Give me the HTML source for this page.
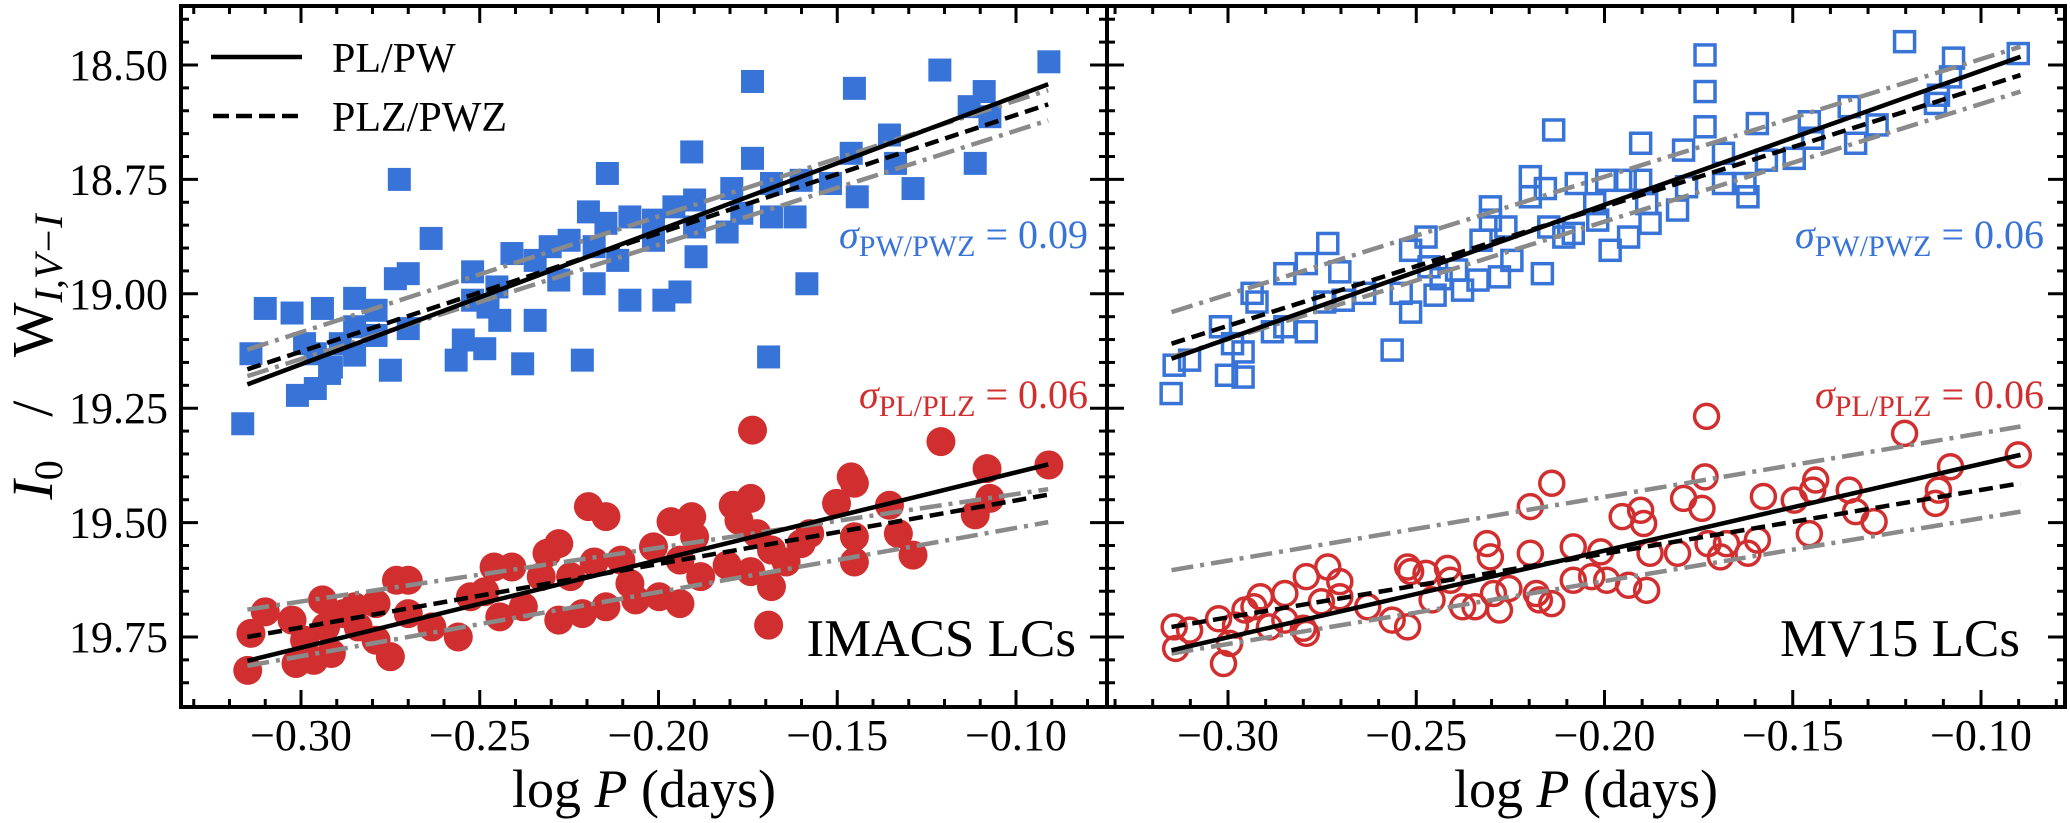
<!DOCTYPE html>
<html><head><meta charset="utf-8"><title>PL/PW relations</title>
<style>
html,body{margin:0;padding:0;background:#fff;}
svg{display:block;font-family:"Liberation Serif","DejaVu Serif",serif;}
</style></head>
<body>
<svg id="chart" xmlns="http://www.w3.org/2000/svg" width="2070" height="823" viewBox="0 0 2070 823"></svg>
<script>
// ---------- data ----------
const xTickValues = [-0.30, -0.25, -0.20, -0.15, -0.10];
const xTickLabels = ["\u22120.30", "\u22120.25", "\u22120.20", "\u22120.15", "\u22120.10"];
const yTickValues = [18.50, 18.75, 19.00, 19.25, 19.50, 19.75];
const yTickLabels = ["18.50", "18.75", "19.00", "19.25", "19.50", "19.75"];

const imacsPwLogP = [-0.314,-0.310,-0.3025,-0.294,-0.299,-0.296,-0.292,-0.301,-0.296,-0.2915,-0.289,-0.285,-0.285,-0.285,-0.279,-0.279,-0.275,-0.2725,-0.2736,-0.270,-0.270,-0.2636,-0.2566,-0.2546,-0.252,-0.252,-0.2486,-0.2477,-0.2452,-0.2444,-0.241,-0.238,-0.2345,-0.2345,-0.2303,-0.2279,-0.225,-0.2213,-0.2196,-0.218,-0.218,-0.2143,-0.2147,-0.2114,-0.208,-0.208,-0.2014,-0.2014,-0.1985,-0.194,-0.1957,-0.1907,-0.1899,-0.1899,-0.1895,-0.1808,-0.1795,-0.1767,-0.1737,-0.1737,-0.1692,-0.1684,-0.1684,-0.1618,-0.1585,-0.1601,-0.1519,-0.1461,-0.1444,-0.1452,-0.1354,-0.1337,-0.1288,-0.1213,-0.1114,-0.1131,-0.1089,-0.1073,-0.0908,-0.3163];
const imacsPwMag = [19.131,19.032,19.042,19.032,19.109,19.131,19.174,19.222,19.207,19.160,19.109,19.010,19.072,19.134,19.036,19.091,19.167,18.750,18.967,18.956,19.076,18.879,19.145,19.101,18.952,19.014,19.120,19.029,18.985,19.058,18.912,19.153,19.058,18.927,18.897,18.970,18.883,19.145,18.821,18.897,18.978,18.737,18.846,18.927,19.014,18.832,18.839,18.883,19.014,18.996,18.810,18.690,18.795,18.854,18.919,18.865,18.770,18.824,18.704,18.536,19.138,18.759,18.832,18.832,18.978,18.752,18.759,18.693,18.788,18.551,18.653,18.715,18.770,18.511,18.715,18.591,18.558,18.613,18.493,19.284];

const imacsPlLogP = [-0.3149,-0.314,-0.310,-0.3025,-0.3014,-0.299,-0.2964,-0.294,-0.2931,-0.2915,-0.2882,-0.285,-0.284,-0.279,-0.279,-0.275,-0.2733,-0.270,-0.270,-0.2634,-0.256,-0.2526,-0.2486,-0.2444,-0.246,-0.241,-0.2378,-0.2328,-0.2312,-0.2279,-0.2279,-0.2246,-0.2196,-0.2213,-0.218,-0.2147,-0.2147,-0.2105,-0.208,-0.2064,-0.2014,-0.1998,-0.1965,-0.194,-0.194,-0.1907,-0.1899,-0.1882,-0.1808,-0.1791,-0.1775,-0.1742,-0.1737,-0.1742,-0.1725,-0.1684,-0.1692,-0.1684,-0.1643,-0.1601,-0.1577,-0.1502,-0.1461,-0.1452,-0.1452,-0.1452,-0.1354,-0.1329,-0.1288,-0.121,-0.1114,-0.1081,-0.1073,-0.0908];
const imacsPlMag = [19.823,19.742,19.695,19.713,19.808,19.757,19.801,19.669,19.728,19.786,19.699,19.684,19.728,19.677,19.757,19.793,19.626,19.626,19.699,19.728,19.750,19.662,19.651,19.706,19.597,19.597,19.684,19.618,19.567,19.546,19.713,19.618,19.465,19.699,19.586,19.487,19.684,19.582,19.633,19.669,19.553,19.662,19.498,19.677,19.582,19.487,19.531,19.618,19.593,19.462,19.495,19.447,19.298,19.607,19.524,19.640,19.724,19.560,19.586,19.546,19.524,19.458,19.400,19.414,19.531,19.586,19.462,19.524,19.571,19.323,19.483,19.382,19.447,19.374];

const mv15PwLogP = [-0.3151,-0.3143,-0.3102,-0.302,-0.3004,-0.2988,-0.296,-0.296,-0.2936,-0.2923,-0.2882,-0.2849,-0.2849,-0.2792,-0.2792,-0.2743,-0.2735,-0.2703,-0.2694,-0.2637,-0.2564,-0.254,-0.2515,-0.2515,-0.2474,-0.2466,-0.245,-0.2434,-0.2393,-0.2377,-0.2336,-0.2328,-0.2303,-0.2303,-0.2279,-0.2262,-0.2246,-0.2197,-0.2197,-0.2165,-0.2157,-0.2148,-0.2135,-0.2108,-0.2083,-0.2075,-0.2026,-0.2018,-0.1994,-0.1985,-0.1945,-0.1936,-0.1904,-0.1904,-0.1888,-0.1879,-0.1806,-0.179,-0.1782,-0.1733,-0.1733,-0.1733,-0.1684,-0.1684,-0.1627,-0.1619,-0.1594,-0.157,-0.1496,-0.1456,-0.1447,-0.135,-0.1333,-0.1276,-0.1203,-0.1121,-0.1113,-0.1073,-0.1081,-0.0901];
const mv15PwMag = [19.218,19.156,19.145,19.072,19.178,19.109,19.182,19.127,18.999,19.018,19.083,19.072,18.956,19.083,18.934,19.018,18.890,18.952,19.014,18.999,19.123,18.999,19.040,18.905,18.876,18.941,19.003,18.967,18.948,18.992,18.970,18.883,18.810,18.839,18.963,18.854,18.927,18.744,18.788,18.956,18.770,18.854,18.642,18.876,18.868,18.759,18.803,18.839,18.752,18.905,18.752,18.876,18.671,18.752,18.803,18.846,18.817,18.686,18.766,18.478,18.558,18.635,18.693,18.759,18.759,18.788,18.628,18.708,18.704,18.624,18.660,18.591,18.671,18.631,18.449,18.584,18.566,18.485,18.526,18.475];

const mv15PlLogP = [-0.3143,-0.3139,-0.3102,-0.3025,-0.3012,-0.2996,-0.298,-0.2955,-0.2931,-0.2914,-0.289,-0.2849,-0.2849,-0.28,-0.2792,-0.2792,-0.2752,-0.2735,-0.2703,-0.2703,-0.2629,-0.2564,-0.2523,-0.2523,-0.2515,-0.2474,-0.2458,-0.2417,-0.2409,-0.2377,-0.2344,-0.2312,-0.2303,-0.2295,-0.2279,-0.2254,-0.2197,-0.2197,-0.2181,-0.2173,-0.214,-0.214,-0.2083,-0.2083,-0.2034,-0.201,-0.1994,-0.1953,-0.1936,-0.1904,-0.1896,-0.1888,-0.1879,-0.1806,-0.179,-0.1741,-0.1733,-0.1729,-0.1725,-0.1692,-0.1676,-0.1619,-0.1594,-0.1578,-0.1496,-0.1456,-0.1447,-0.1439,-0.135,-0.1333,-0.1284,-0.1203,-0.1121,-0.1113,-0.1081,-0.0901];
const mv15PlMag = [19.728,19.775,19.735,19.710,19.808,19.764,19.724,19.691,19.684,19.662,19.728,19.655,19.713,19.731,19.618,19.742,19.673,19.597,19.629,19.662,19.684,19.713,19.728,19.597,19.607,19.611,19.669,19.600,19.626,19.684,19.684,19.546,19.575,19.655,19.691,19.644,19.465,19.567,19.655,19.669,19.414,19.677,19.553,19.626,19.618,19.564,19.626,19.487,19.637,19.473,19.502,19.648,19.567,19.567,19.447,19.469,19.400,19.268,19.546,19.575,19.546,19.567,19.538,19.443,19.451,19.524,19.429,19.407,19.429,19.476,19.498,19.305,19.458,19.429,19.378,19.352];

// fit line endpoints [logP start, logP end] and [mag start, mag end]
const fitLogPLeft = [-0.315, -0.091];
const fitLogPRight = [-0.315, -0.0895];
const imacsPwSolid = [19.198, 18.542];
const imacsPwDashed = [19.165, 18.586];
const imacsPwUpper = [19.122, 18.555];
const imacsPwLower = [19.180, 18.621];
const imacsPlSolid = [19.802, 19.373];
const imacsPlDashed = [19.750, 19.439];
const imacsPlUpper = [19.690, 19.427];
const imacsPlLower = [19.813, 19.499];
const mv15PwSolid = [19.142, 18.482];
const mv15PwDashed = [19.109, 18.522];
const mv15PwUpper = [19.040, 18.460];
const mv15PwLower = [19.138, 18.558];
const mv15PlSolid = [19.779, 19.352];
const mv15PlDashed = [19.728, 19.414];
const mv15PlUpper = [19.604, 19.290];
const mv15PlLower = [19.786, 19.476];

// ---------- layout ----------
const NS = "http://www.w3.org/2000/svg";
const svg = document.getElementById("chart");
const TOP = 6, BOTTOM = 707, LEFT = 181, MID = 1107, RIGHT = 2065;
const BLUE = "#3874d8", RED = "#d12f2f", GRAY = "#8a8a8a";

function yScale(m){ return 65 + (m - 18.5) * 457.6; }
function xLeft(v){ return 301 + (v + 0.30) * 3575; }
function xRight(v){ return 1228 + (v + 0.30) * 3765; }

function el(tag, attrs, parent){
  const e = document.createElementNS(NS, tag);
  for (const k in attrs) e.setAttribute(k, attrs[k]);
  (parent || svg).appendChild(e);
  return e;
}

function drawPanel(name, x0, x1, xs, vmin, vmax){
  const g = el("g", {});
  
  
  for (let k = Math.ceil(vmin*100); k <= Math.floor(vmax*100); k++){
    const v = k/100, px = xs(v);
    if (px < x0 + 3 || px > x1 - 3) continue;
    const major = (k % 5 === 0);
    const len = major ? 17 : 8;
    const t1 = el("line", {x1:px, x2:px, y1:BOTTOM, y2:BOTTOM-len, stroke:"#000", "stroke-width":3}, g);
    
    
    const t2 = el("line", {x1:px, x2:px, y1:TOP, y2:TOP+len, stroke:"#000", "stroke-width":3}, g);
    
    
  }
  xTickValues.forEach((v, i) => {
    const t = el("text", {x:xs(v), y:750, "text-anchor":"middle", "font-size":44}, g);
    t.textContent = xTickLabels[i];
    
    
  });
  for (let k = 0; k <= 30; k++){
    const m = 18.40 + k*0.05;
    const py = yScale(m);
    if (py < TOP+2 || py > BOTTOM-2) continue;
    const major = Math.abs((m*4) - Math.round(m*4)) < 1e-6;
    const len = major ? 17 : 8;
    [[x0, 1], [x1, -1]].forEach(([xx, d]) => {
      const t = el("line", {x1:xx, x2:xx + d*len, y1:py, y2:py, stroke:"#000", "stroke-width":3}, g);
      
      
    });
  }
  return g;
}

function drawLine(g, xs, lp, mags, style, name){
  const a = {x1:xs(lp[0]), y1:yScale(mags[0]), x2:xs(lp[1]), y2:yScale(mags[1]), "stroke-width":4.5, fill:"none"};
  if (style === "solid"){ a.stroke = "#000"; }
  else if (style === "dashed"){ a.stroke = "#000"; a["stroke-dasharray"] = "14 7"; }
  else { a.stroke = GRAY; a["stroke-dasharray"] = "22 7 4 7"; }
  const l = el("line", a, g);
  
  
}

function drawPoints(g, xs, lp, mags, shape, name){
  lp.forEach((v, i) => {
    const cx = xs(v), cy = yScale(mags[i]);
    let p;
    if (shape === "fsq") p = el("rect", {x:cx-11.5, y:cy-11.5, width:23, height:23, fill:BLUE}, g);
    else if (shape === "hsq") p = el("rect", {x:cx-10, y:cy-10, width:20, height:20, fill:"none", stroke:BLUE, "stroke-width":3.5}, g);
    else if (shape === "fci") p = el("circle", {cx:cx, cy:cy, r:14.5, fill:RED}, g);
    else p = el("circle", {cx:cx, cy:cy, r:12, fill:"none", stroke:RED, "stroke-width":3.5}, g);
    
    
  });
}

function sigmaLabel(g, xr, y, sub, val, color, name){
  const t = el("text", {x:xr, y:y, "text-anchor":"end", "font-size":40, fill:color}, g);
  
  
  const s1 = el("tspan", {"font-style":"italic"}, t); s1.textContent = "\u03C3";
  const s2 = el("tspan", {"font-size":30, dy:8}, t); s2.textContent = sub;
  const s3 = el("tspan", {dy:-8}, t); s3.textContent = " = " + val;
}

// left panel
const gL = drawPanel("imacs", LEFT, MID, xLeft, -0.34, -0.07);
drawPoints(gL, xLeft, imacsPwLogP, imacsPwMag, "fsq", "imacs-pw-point");
drawPoints(gL, xLeft, imacsPlLogP, imacsPlMag, "fci", "imacs-pl-point");
drawLine(gL, xLeft, fitLogPLeft, imacsPwUpper, "gray", "imacs-pw-upper-bound");
drawLine(gL, xLeft, fitLogPLeft, imacsPwLower, "gray", "imacs-pw-lower-bound");
drawLine(gL, xLeft, fitLogPLeft, imacsPlUpper, "gray", "imacs-pl-upper-bound");
drawLine(gL, xLeft, fitLogPLeft, imacsPlLower, "gray", "imacs-pl-lower-bound");
drawLine(gL, xLeft, fitLogPLeft, imacsPwDashed, "dashed", "imacs-pwz-fit");
drawLine(gL, xLeft, fitLogPLeft, imacsPlDashed, "dashed", "imacs-plz-fit");
drawLine(gL, xLeft, fitLogPLeft, imacsPwSolid, "solid", "imacs-pw-fit");
drawLine(gL, xLeft, fitLogPLeft, imacsPlSolid, "solid", "imacs-pl-fit");
sigmaLabel(gL, 1088, 248, "PW/PWZ", "0.09", BLUE, "imacs-pw-sigma");
sigmaLabel(gL, 1088, 408, "PL/PLZ", "0.06", RED, "imacs-pl-sigma");
const lab1 = el("text", {x:1076, y:656, "text-anchor":"end", "font-size":53}, gL);
lab1.textContent = "IMACS LCs";



// legend
const leg = el("g", {});


const lg1 = el("line", {x1:211, x2:302, y1:57, y2:57, stroke:"#000", "stroke-width":4.5}, leg);


const lt1 = el("text", {x:332, y:72, "font-size":42}, leg);
lt1.textContent = "PL/PW";


const lg2 = el("line", {x1:213, x2:300, y1:116, y2:116, stroke:"#000", "stroke-width":4.5, "stroke-dasharray":"16 7"}, leg);


const lt2 = el("text", {x:332, y:131, "font-size":42}, leg);
lt2.textContent = "PLZ/PWZ";



// right panel
const gR = drawPanel("mv15", MID, RIGHT, xRight, -0.34, -0.07);
drawPoints(gR, xRight, mv15PwLogP, mv15PwMag, "hsq", "mv15-pw-point");
drawPoints(gR, xRight, mv15PlLogP, mv15PlMag, "hci", "mv15-pl-point");
drawLine(gR, xRight, fitLogPRight, mv15PwUpper, "gray", "mv15-pw-upper-bound");
drawLine(gR, xRight, fitLogPRight, mv15PwLower, "gray", "mv15-pw-lower-bound");
drawLine(gR, xRight, fitLogPRight, mv15PlUpper, "gray", "mv15-pl-upper-bound");
drawLine(gR, xRight, fitLogPRight, mv15PlLower, "gray", "mv15-pl-lower-bound");
drawLine(gR, xRight, fitLogPRight, mv15PwDashed, "dashed", "mv15-pwz-fit");
drawLine(gR, xRight, fitLogPRight, mv15PlDashed, "dashed", "mv15-plz-fit");
drawLine(gR, xRight, fitLogPRight, mv15PwSolid, "solid", "mv15-pw-fit");
drawLine(gR, xRight, fitLogPRight, mv15PlSolid, "solid", "mv15-pl-fit");
sigmaLabel(gR, 2044, 248, "PW/PWZ", "0.06", BLUE, "mv15-pw-sigma");
sigmaLabel(gR, 2044, 408, "PL/PLZ", "0.06", RED, "mv15-pl-sigma");
const lab2 = el("text", {x:2020, y:656, "text-anchor":"end", "font-size":53}, gR);
lab2.textContent = "MV15 LCs";



// frames
const f1 = el("rect", {x:LEFT, y:TOP, width:MID-LEFT, height:BOTTOM-TOP, fill:"none", stroke:"#000", "stroke-width":4});


const f2 = el("rect", {x:MID, y:TOP, width:RIGHT-MID, height:BOTTOM-TOP, fill:"none", stroke:"#000", "stroke-width":4});



// y tick labels
yTickValues.forEach((m, i) => {
  const t = el("text", {x:168, y:yScale(m)+15, "text-anchor":"end", "font-size":44});
  t.textContent = yTickLabels[i];
  
  
});

// axis titles
[[ (LEFT+MID)/2, "imacs-x-axis-title"], [ (MID+RIGHT)/2, "mv15-x-axis-title"]].forEach(([cx, nm]) => {
  const t = el("text", {x:cx, y:807, "text-anchor":"middle", "font-size":54});
  
  
  const a = el("tspan", {}, t); a.textContent = "log ";
  const b = el("tspan", {"font-style":"italic"}, t); b.textContent = "P";
  const c = el("tspan", {}, t); c.textContent = " (days)";
});
const yt = el("text", {x:0, y:0, "text-anchor":"middle", "font-size":58, transform:"translate(52,357) rotate(-90)"});


const y1 = el("tspan", {"font-style":"italic"}, yt); y1.textContent = "I";
const y2 = el("tspan", {"font-size":40, dy:10}, yt); y2.textContent = "0";
const y3 = el("tspan", {dy:-10}, yt); y3.textContent = "\u2002 / \u2002W";
const y4 = el("tspan", {"font-size":40, dy:10, "font-style":"italic"}, yt); y4.textContent = "I,V\u2212I";
</script>
</body></html>
